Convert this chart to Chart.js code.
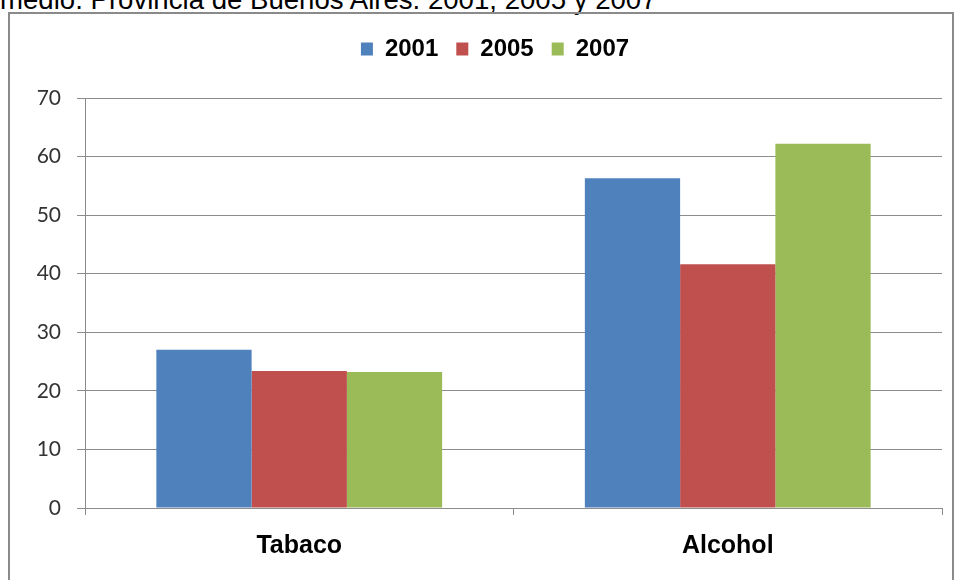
<!DOCTYPE html>
<html>
<head>
<meta charset="utf-8">
<script src="https://cdn.jsdelivr.net/npm/chart.js@4.4.0/dist/chart.umd.min.js"></script>
<style>
    html, body { margin: 0; padding: 0; background: #fff; overflow: hidden; }
    #wrap { position: relative; width: 956px; height: 580px; overflow: hidden; }
    #caption {
        position: absolute; left: 0; top: -14px; white-space: nowrap;
        font: 27.6px/28px "Liberation Sans", Arial, sans-serif; color: #000;
    }
    #frame {
        position: absolute; left: 8px; top: 12px; width: 942px; height: 600px;
        border: 2px solid #8a8a8a;
    }
    #chart { position: absolute; left: 0; top: 0; }
</style>
</head>
<body>
<div id="wrap">
    <div id="caption">medio. Provincia de Buenos Aires. 2001, 2005 y 2007</div>
    <div id="frame"></div>
    <canvas id="chart" width="956" height="580"></canvas>
</div>
<script>
const categories = ['Tabaco', 'Alcohol'];
const years = ['2001', '2005', '2007'];
const values2001 = [27.0, 56.3];
const values2005 = [23.4, 41.6];
const values2007 = [23.2, 62.2];
const yTicks = [0, 10, 20, 30, 40, 50, 60, 70];

const colors = ['#4F81BD', '#C0504D', '#9BBB59'];
const gridColor = '#8c8c8c';

// move the legend box after layout so it sits where the original one does
const legendShift = {
    id: 'legendShift',
    afterLayout(chart, args, opts) {
        const lg = chart.legend;
        if (!lg) return;
        lg.left += opts.dx; lg.right += opts.dx;
        lg.top += opts.dy; lg.bottom += opts.dy;
    }
};

const ctx = document.getElementById('chart').getContext('2d');

const datasets = [values2001, values2005, values2007].map((vals, i) => ({
    label: years[i],
    data: vals,
    backgroundColor: colors[i],
    borderWidth: 0,
    barPercentage: 1.0,
    categoryPercentage: 0.667
}));

new Chart(ctx, {
    type: 'bar',
    data: { labels: categories, datasets: datasets },
    plugins: [legendShift],
    options: {
        responsive: false,
        animation: false,
        layout: { padding: { left: 8, right: 14, top: 46, bottom: 0 } },
        scales: {
            x: {
                grid: {
                    offset: true,
                    drawOnChartArea: false,
                    drawTicks: true,
                    tickLength: 7,
                    color: gridColor
                },
                border: { display: true, color: gridColor, width: 1 },
                ticks: {
                    color: '#000',
                    padding: 16,
                    font: { family: '"Liberation Sans", Arial, sans-serif', size: 25, weight: 'bold' }
                },
                afterFit: (scale) => { scale.height = 72; }
            },
            y: {
                min: 0,
                max: 70,
                afterBuildTicks: (scale) => { scale.ticks = yTicks.map(v => ({ value: v })); },
                grid: {
                    color: gridColor,
                    drawTicks: true,
                    tickLength: 8
                },
                border: { display: true, color: gridColor, width: 1 },
                ticks: {
                    color: '#333',
                    padding: 16,
                    font: { family: 'Lato, sans-serif', size: 21 }
                },
                afterFit: (scale) => { scale.width = 77; }
            }
        },
        plugins: {
            legend: {
                position: 'top',
                labels: {
                    boxWidth: 12,
                    boxHeight: 13,
                    padding: 18,
                    color: '#000',
                    font: { family: '"Liberation Sans", Arial, sans-serif', size: 24, weight: 'bold' }
                }
            },
            legendShift: { dx: 20, dy: -27 },
            tooltip: { enabled: false },
            title: { display: false }
        }
    }
});
</script>
</body>
</html>
